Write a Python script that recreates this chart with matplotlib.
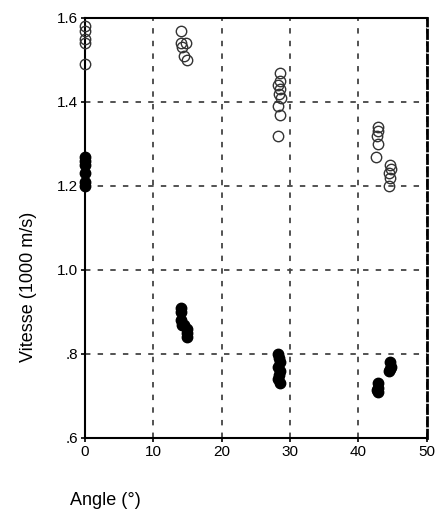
import matplotlib
matplotlib.use("Agg")
import matplotlib.pyplot as plt

plt.rcParams['font.family'] = ['Liberation Sans', 'DejaVu Sans']

# open circles (upper branch)
open_angle = [0, 0, 0, 0, 0,
              14, 14, 14.2, 14.8, 14.5, 15,
              28.5, 28.6, 28.3, 28.5, 28.4, 28.7, 28.3, 28.5, 28.2,
              42.8, 42.9, 42.7, 42.8, 42.6,
              44.6, 44.7, 44.5, 44.6, 44.5]
open_speed = [1.58, 1.57, 1.55, 1.54, 1.49,
              1.57, 1.54, 1.53, 1.54, 1.51, 1.50,
              1.47, 1.45, 1.44, 1.43, 1.42, 1.41, 1.39, 1.37, 1.32,
              1.34, 1.33, 1.32, 1.30, 1.27,
              1.25, 1.24, 1.23, 1.22, 1.20]

# filled circles (lower branch)
fill_angle = [0, 0, 0, 0, 0, 0,
              14, 14, 14, 14.2, 14.5, 15, 15, 15,
              28.3, 28.4, 28.5, 28.3, 28.5, 28.4, 28.3, 28.5,
              42.8, 42.8, 42.9, 42.7,
              44.6, 44.7, 44.6, 44.5]
fill_speed = [1.27, 1.26, 1.25, 1.23, 1.21, 1.20,
              0.91, 0.90, 0.88, 0.87, 0.87, 0.86, 0.85, 0.84,
              0.80, 0.79, 0.78, 0.77, 0.76, 0.75, 0.74, 0.73,
              0.73, 0.72, 0.71, 0.715,
              0.78, 0.77, 0.765, 0.76]

x_ticks = [0, 10, 20, 30, 40, 50]
y_ticks = [0.6, 0.8, 1.0, 1.2, 1.4, 1.6]
y_labels = ['.6', '.8', '1.0', '1.2', '1.4', '1.6']

fig = plt.figure(figsize=(4.40, 5.27), dpi=100)
ax = fig.add_axes([0.193, 0.169, 0.777, 0.797])

ax.plot(open_angle, open_speed, 'o', mfc='none', mec='#333333', mew=1.0,
        ms=7.5, linestyle='none', zorder=3, clip_on=False)
ax.plot(fill_angle, fill_speed, 'o', mfc='black', mec='black',
        ms=7.5, linestyle='none', zorder=3, clip_on=False)

ax.set_xlim(0, 50)
ax.set_ylim(0.6, 1.6)
ax.set_xticks(x_ticks)
ax.set_yticks(y_ticks)
ax.set_yticklabels(y_labels)
ax.tick_params(labelsize=11, length=3, width=1.2, color='black', pad=2)

ax.grid(True, color='#444444', linestyle=(0, (3, 4)), linewidth=1.3)

for side in ['left', 'bottom', 'top']:
    ax.spines[side].set_linewidth(1.5)
ax.spines['right'].set_linewidth(2.0)
ax.spines['right'].set_linestyle((0, (3, 1.5)))

fig.text(0.065, 0.455, 'Vitesse (1000 m/s)', rotation=90, ha='center',
         va='center', fontsize=13)
fig.text(0.16, 0.05, 'Angle (°)', ha='left', va='center', fontsize=13)

fig.savefig('out.png', dpi=100)
